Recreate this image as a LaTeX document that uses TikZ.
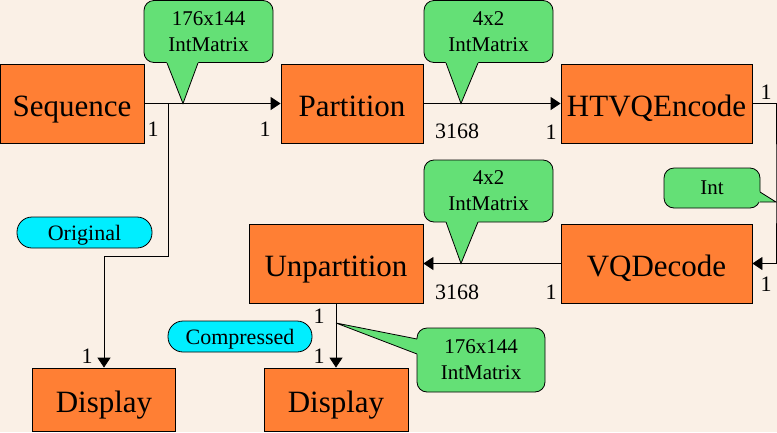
\documentclass[tikz,border=0pt]{standalone}
\usepackage{fontspec}
\setmainfont{Liberation Serif}
\usetikzlibrary{arrows.meta,calc}
\definecolor{bgBeige}{RGB}{250,240,230}
\definecolor{fOrange}{RGB}{255,127,52}
\definecolor{cGreen}{RGB}{100,224,118}
\definecolor{cCyan}{RGB}{0,238,255}
% name, centre, width, height, text, pointer base a, tip, pointer base b
\newcommand{\bubble}[8]{%
  \node[co,minimum width=#3,minimum height=#4] (#1) at (#2) {#5};
  \fill[cGreen] ($(#6)!-1.5pt!(#7)$) -- (#7) -- ($(#8)!-1.5pt!(#7)$) -- cycle;
  \draw[ln] (#6) -- (#7) -- (#8);}

\begin{document}
\begin{tikzpicture}[x=1pt,y=-1pt,font=\fontsize{21}{26}\selectfont,
  blk/.style={draw=black,fill=fOrange,line width=0.8pt,minimum height=79pt,inner sep=0pt,
              text height=25pt,text depth=0pt,font=\fontsize{31}{34}\selectfont},
  co/.style={draw=black,fill=cGreen,rounded corners=10pt,line width=0.8pt,align=center,
             inner sep=0pt,text depth=-3pt},
  tag/.style={draw=black,fill=cCyan,rounded corners=15pt,line width=0.8pt,minimum height=31pt,
              inner sep=0pt,text depth=0pt,font=\fontsize{22}{24}\selectfont},
  num/.style={inner sep=0pt,font=\fontsize{22}{24}\selectfont},
  fl/.style={-{Triangle[length=10pt,width=13pt]},line width=0.8pt},
  ln/.style={line width=0.8pt}]
\useasboundingbox (0,0) rectangle (777,432);
\fill[bgBeige] (0,0) rectangle (777,432);
% ---- top row
\node[blk,minimum width=144pt] (seq) at (72,103.5) {Sequence};
\node[blk,minimum width=142pt] (part) at (352,103.5) {Partition};
\node[blk,minimum width=191pt] (enc) at (656.5,103.5) {HTVQEncode};
% ---- middle row
\node[blk,minimum width=191pt] (dec) at (656.5,263.5) {VQDecode};
\node[blk,minimum width=174pt] (unpart) at (336,263.5) {Unpartition};
% ---- displays
\node[blk,minimum width=143pt,minimum height=63pt] (disp1) at (104,399.5) {Display};
\node[blk,minimum width=144pt,minimum height=63pt] (disp2) at (336,399.5) {Display};
% ---- tags
\node[tag,minimum width=135pt] (orig) at (84.5,232.5) {Original};
\node[tag,minimum width=144pt] (comp) at (240,336.5) {Compressed};
% ---- flows
\coordinate (br) at (168,103.5);
\coordinate (bend) at (104,256);
\coordinate (rt) at (776,184);
\draw[fl] (seq) -- (part);
\draw[fl] (br) |- (bend) -- (disp1.north);
\draw[fl] (part) -- (enc);
\draw[fl] (enc.east) -| (rt) |- (dec.east);
\draw[fl] (dec) -- (unpart);
\draw[fl] (unpart) -- (disp2);
% ---- callouts
\bubble{t1}{208.5,31.5}{129pt}{62pt}{176x144\\IntMatrix}{167,63}{183,103.5}{198,63}
\bubble{t2}{488.5,31.5}{129pt}{62pt}{4x2\\IntMatrix}{446,63}{461,103.5}{478,63}
\bubble{t3}{488.5,191}{129pt}{62pt}{4x2\\IntMatrix}{446,222}{461,263.5}{478,222}
\bubble{t4}{481,360}{128pt}{64pt}{176x144\\IntMatrix}{417,339}{336,323}{417,354}
\bubble{t5}{712,188}{96pt}{40pt}{Int}{760,192}{776,202}{760,202}
% ---- multiplicities
\node[num] (m1) at (153,129) {1};
\node[num] (m2) at (265,129) {1};
\node[num] (m3) at (457,131) {3168};
\node[num] (m4) at (551,132) {1};
\node[num] (m5) at (766,92) {1};
\node[num] (m6) at (766,284) {1};
\node[num] (m7) at (551,292) {1};
\node[num] (m8) at (457,292) {3168};
\node[num] (m9) at (319,316) {1};
\node[num] (m10) at (319,356) {1};
\node[num] (m11) at (87,356) {1};
\end{tikzpicture}
\end{document}
